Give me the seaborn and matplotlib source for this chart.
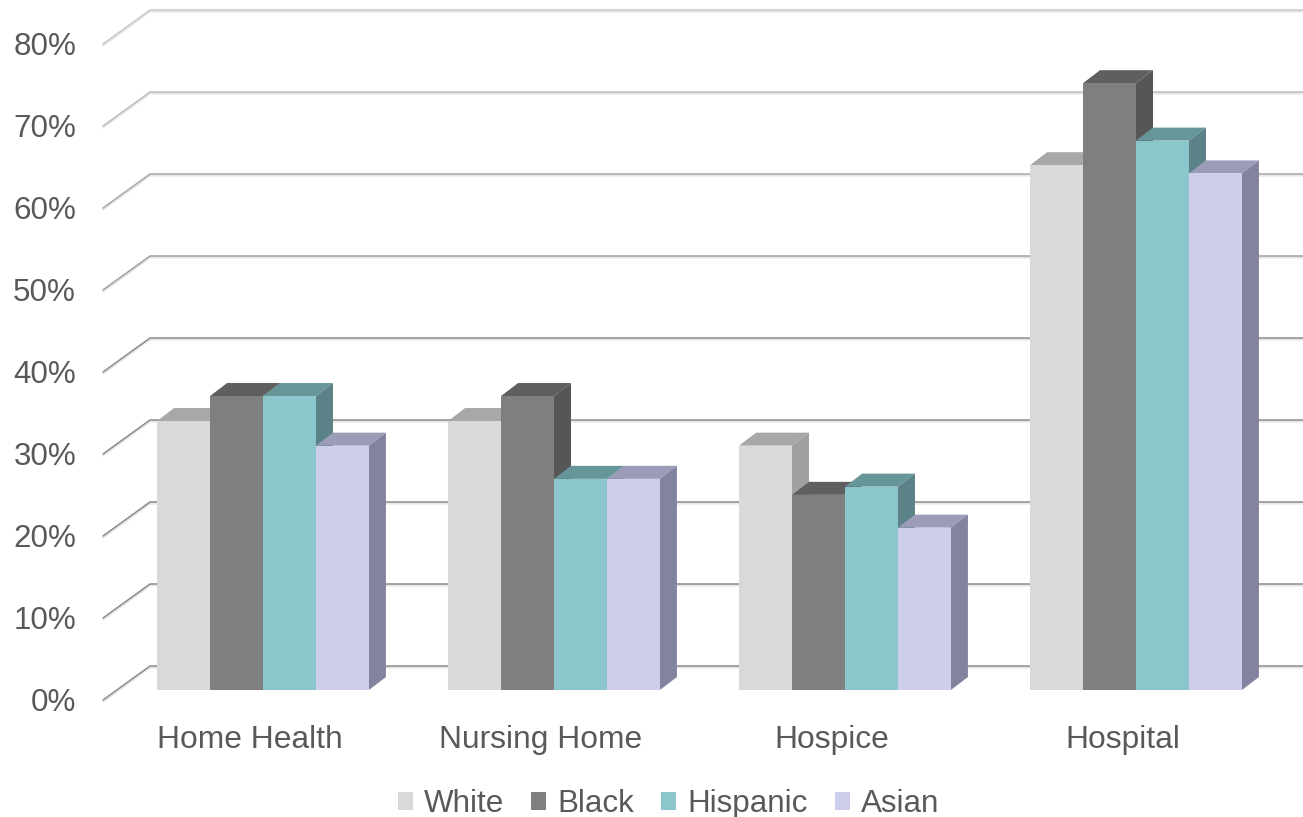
import matplotlib
matplotlib.use("Agg")
import matplotlib.pyplot as plt
import matplotlib.transforms as mtransforms
from matplotlib.patches import Patch, Polygon
import pandas as pd
import seaborn as sns

settings = ["Home Health", "Nursing Home", "Hospice", "Hospital"]
groups = ["White", "Black", "Hispanic", "Asian"]
white = [32.8, 32.8, 29.8, 64.0]
black = [35.85, 35.85, 23.8, 74.0]
hispanic = [35.85, 25.75, 24.8, 67.0]
asian = [29.8, 25.75, 19.8, 63.0]
percent_ticks = [0, 10, 20, 30, 40, 50, 60, 70, 80]

front_colors = ["#D9D9D9", "#7F7F7F", "#8AC6CC", "#CDCEEC"]
top_colors = ["#A8A8A8", "#5F5F5F", "#66959A", "#9B9CB8"]
side_colors = ["#A0A0A0", "#565656", "#5A8287", "#82839E"]
text_color = "#595959"

W, H, DPI = 1303, 817, 100
PX_PER_PCT = 8.2
PX_PER_CAT = 291.0
BASE_Y = 690.0
FIRST_X = 263.0
AXIS_LEFT = 103.0

sns.set_theme(style="white")
plt.rcParams["font.family"] = ["Liberation Sans", "DejaVu Sans"]

df = pd.DataFrame({
    "setting": settings * 4,
    "group": [g for g in groups for _ in settings],
    "share": white + black + hispanic + asian,
})

fig = plt.figure(figsize=(W / DPI, H / DPI), dpi=DPI, facecolor="white")
ax = fig.add_axes([AXIS_LEFT / W, (H - BASE_Y) / H, 1 - AXIS_LEFT / W, BASE_Y / H])
ax.patch.set_alpha(0)

sns.barplot(
    data=df, x="setting", y="share", hue="group", order=settings, hue_order=groups,
    palette=dict(zip(groups, front_colors)), saturation=1, width=0.728, gap=0,
    linewidth=0, legend=False, errorbar=None, ax=ax,
)

ax.set_xlim((AXIS_LEFT - FIRST_X) / PX_PER_CAT, (W - FIRST_X) / PX_PER_CAT)
ax.set_ylim(0, BASE_Y / PX_PER_PCT)
sns.despine(ax=ax, left=True, bottom=True)
ax.set_xlabel("")
ax.set_ylabel("")

# Pixel distances expressed in data units, for the oblique projection.
def dx(px):
    return px / PX_PER_CAT

def dy(px):
    return px / PX_PER_PCT

x_left = ax.get_xlim()[0]
x_wall = x_left + dx(47)
x_right = ax.get_xlim()[1]
wall_lift = dy(24)
floor_drop = dy(10)

# Gridlines run along the back wall and fold forward to the axis on the left.
core_shades = {80: "#C9C9C9", 70: "#BDBDBD", 60: "#A8A8A8", 50: "#A0A0A0"}
for pct in percent_ticks:
    xs = [x_left, x_wall, x_right]
    ys = [pct - floor_drop, pct + wall_lift, pct + wall_lift]
    ax.plot(xs, [y - dy(1.5) for y in ys], color="#E6E6E6", lw=1.6, clip_on=False, zorder=1,
            solid_capstyle="round")
    ax.plot(xs, ys, color=core_shades.get(pct, "#8C8C8C"), lw=1.1, clip_on=False, zorder=1.1,
            solid_capstyle="round")

# Extrude every bar: top and side sit behind the front face of its right neighbour.
depth_x, depth_y = dx(17), dy(13)
for i, container in enumerate(ax.containers):
    for bar in container:
        x0, w, h = bar.get_x(), bar.get_width(), bar.get_height()
        x1 = x0 + w
        bar.set_zorder(3 + i * 0.1 + 0.05)
        ax.add_patch(Polygon(
            [(x0, h), (x1, h), (x1 + depth_x, h + depth_y), (x0 + depth_x, h + depth_y)],
            closed=True, facecolor=top_colors[i], edgecolor="none", zorder=3 + i * 0.1, clip_on=False,
        ))
        ax.add_patch(Polygon(
            [(x1, 0), (x1, h), (x1 + depth_x, h + depth_y), (x1 + depth_x, depth_y)],
            closed=True, facecolor=side_colors[i], edgecolor="none", zorder=3 + i * 0.1, clip_on=False,
        ))

# Tick labels sit on the front plane, offset from the bars' own plane.
ax.set_yticks(percent_ticks)
ax.set_yticklabels([f"{p}%" for p in percent_ticks])
ax.tick_params(axis="y", length=0, pad=19.4, labelsize=22.6, labelcolor=text_color)
ax.tick_params(axis="x", length=0, pad=25.3, labelsize=22.9, labelcolor=text_color)
down = mtransforms.ScaledTranslation(0, -9.5 / DPI, fig.dpi_scale_trans)
for label in ax.get_yticklabels():
    label.set_transform(label.get_transform() + down)
left = mtransforms.ScaledTranslation(-13 / DPI, 0, fig.dpi_scale_trans)
for label in ax.get_xticklabels():
    label.set_transform(label.get_transform() + left)

handles = [Patch(facecolor=c, edgecolor="none", label=g) for c, g in zip(front_colors, groups)]
fig.legend(
    handles=handles, loc="center", bbox_to_anchor=(668.5 / W, 1 - 804 / H), ncols=4, frameon=False,
    fontsize=22.6, labelcolor=text_color, handlelength=0.48, handleheight=0.48,
    handletextpad=0.35, columnspacing=0.86, borderpad=0, borderaxespad=0,
)

fig.savefig("out.png", dpi=DPI)
